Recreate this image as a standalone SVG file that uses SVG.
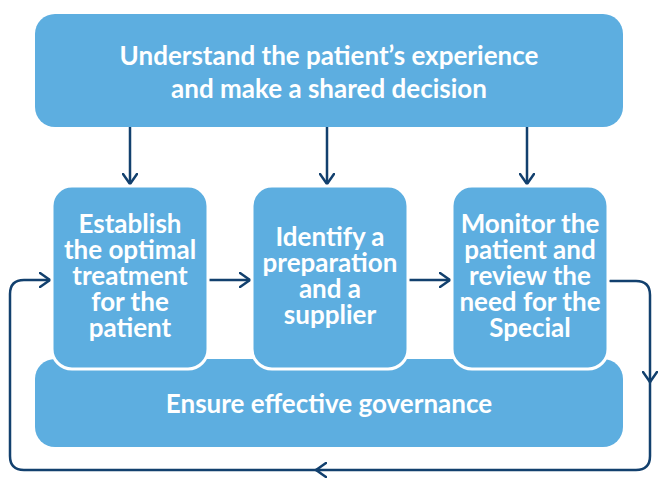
<svg xmlns="http://www.w3.org/2000/svg" width="659" height="479" viewBox="0 0 659 479">
<defs>
<style>
.box{fill:#5daee0;}
.mid{fill:#5daee0;stroke:#ffffff;stroke-width:3;}
.t{font-family:Lato,"Open Sans","Liberation Sans",sans-serif;font-weight:bold;font-size:26px;fill:#ffffff;text-anchor:middle;}
.c{fill:none;stroke:#12406e;stroke-width:2.5;stroke-linecap:round;stroke-linejoin:round;}
</style>
<marker id="ah" viewBox="0 0 12 16" refX="11" refY="8" markerWidth="12" markerHeight="16" markerUnits="userSpaceOnUse" orient="auto">
<path d="M1,1 L11,8 L1,15" fill="none" stroke="#12406e" stroke-width="2.5" stroke-linecap="round" stroke-linejoin="round"/>
</marker>
</defs>
<rect width="659" height="479" fill="#ffffff"/>
<g id="connectors">
<path class="c" d="M130,127 V184" marker-end="url(#ah)"/>
<path class="c" d="M327,127 V184" marker-end="url(#ah)"/>
<path class="c" d="M527,127 V184" marker-end="url(#ah)"/>
<path class="c" d="M208,280 H250" marker-end="url(#ah)"/>
<path class="c" d="M408,280 H450" marker-end="url(#ah)"/>
<path class="c" d="M610,281 H636 Q650,281 650,295 V382" marker-end="url(#ah)"/>
<path class="c" d="M650,380 V456 Q650,470 636,470 H316" marker-end="url(#ah)"/>
<path class="c" d="M320,470 H24 Q10,470 10,456 V294 Q10,280 24,280 H50" marker-end="url(#ah)"/>
</g>
<g id="top">
<rect class="box" x="35" y="14" width="588" height="113" rx="20"/>
<text class="t" x="329" y="65">Understand the patient’s experience</text>
<text class="t" x="329" y="98">and make a shared decision</text>
</g>
<g id="governance">
<rect class="box" x="35" y="359" width="588" height="88" rx="20"/>
<text class="t" x="329" y="413">Ensure effective governance</text>
</g>
<g id="establish">
<rect class="mid" x="52" y="186" width="156" height="183" rx="20"/>
<text class="t" x="130" y="233">Establish</text>
<text class="t" x="130" y="259">the optimal</text>
<text class="t" x="130" y="285">treatment</text>
<text class="t" x="130" y="311">for the</text>
<text class="t" x="130" y="337">patient</text>
</g>
<g id="identify">
<rect class="mid" x="252" y="186" width="156" height="183" rx="20"/>
<text class="t" x="330" y="246">Identify a</text>
<text class="t" x="330" y="272">preparation</text>
<text class="t" x="330" y="298">and a</text>
<text class="t" x="330" y="324">supplier</text>
</g>
<g id="monitor">
<rect class="mid" x="452" y="186" width="156" height="183" rx="20"/>
<text class="t" x="530" y="233">Monitor the</text>
<text class="t" x="530" y="259">patient and</text>
<text class="t" x="530" y="285">review the</text>
<text class="t" x="530" y="311">need for the</text>
<text class="t" x="530" y="337">Special</text>
</g>
</svg>
